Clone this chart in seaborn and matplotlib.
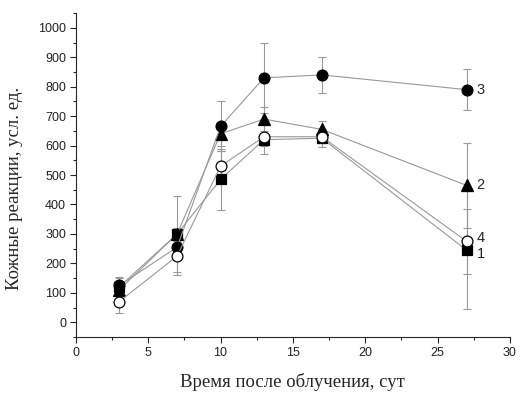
import seaborn as sns
import matplotlib.pyplot as plt
import pandas as pd
from matplotlib.ticker import MultipleLocator

days = [3, 7, 10, 13, 17, 27]
s1 = [120, 300, 485, 620, 625, 245]
s2 = [110, 300, 640, 690, 655, 465]
s3 = [125, 255, 665, 830, 840, 790]
s4 = [70, 225, 530, 630, 630, 275]
e1 = [30, 130, 105, 20, 30, 200]
e2 = [20, 20, 40, 40, 30, 145]
e3 = [30, 20, 85, 120, 62, 70]
e4 = [38, 65, 50, 60, 20, 110]
labels = ['1', '2', '3', '4']

sns.set_style('ticks')
fig = plt.figure(figsize=(5.23, 3.96), dpi=100)
ax = fig.add_axes([0.145, 0.149, 0.83, 0.818])

series = [
    (s1, e1, 's', 'black', 6.5),
    (s2, e2, '^', 'black', 8),
    (s3, e3, 'o', 'black', 7.8),
    (s4, e4, 'o', 'white', 7.8),
]
for (vals, errs, mk, fc, ms), lab in zip(series, labels):
    df = pd.DataFrame({'day': days, 'val': vals})
    ax.errorbar(days, vals, yerr=errs, fmt='none', ecolor='#999999',
                elinewidth=0.8, capsize=3, capthick=0.8, zorder=1)
    sns.lineplot(data=df, x='day', y='val', ax=ax, color='#999999', lw=0.8,
                 marker=mk, markersize=ms,
                 markerfacecolor=fc, markeredgecolor='black', markeredgewidth=0.9,
                 zorder=2)
    off = {'1': -12, '2': 0, '3': 0, '4': 12}[lab]
    ax.text(days[-1] + 0.7, vals[-1] + off, lab, fontsize=10.5,
            family='Liberation Sans', va='center', ha='left')

ax.set_xlim(0, 30)
ax.set_ylim(-50, 1050)
ax.xaxis.set_major_locator(MultipleLocator(5))
ax.xaxis.set_minor_locator(MultipleLocator(2.5))
ax.yaxis.set_major_locator(MultipleLocator(100))
ax.yaxis.set_minor_locator(MultipleLocator(50))
ax.set_yticks(range(0, 1001, 100))
ax.tick_params(which='major', length=4, width=0.8, labelsize=9, pad=3)
ax.tick_params(which='minor', length=2.5, width=0.8)
for t in ax.get_xticklabels() + ax.get_yticklabels():
    t.set_family('Liberation Sans')
    t.set_color('#222222')
sns.despine(ax=ax)
ax.spines['left'].set_linewidth(0.8)
ax.spines['bottom'].set_linewidth(0.8)
ax.set_xlabel('Время после облучения, сут', family='Liberation Serif',
              fontsize=13.5, labelpad=10)
ax.set_ylabel('Кожные реакции, усл. ед.', family='Liberation Serif',
              fontsize=13.5)
ax.yaxis.set_label_coords(-0.122, 0.46)

fig.savefig('out.png', dpi=100)
